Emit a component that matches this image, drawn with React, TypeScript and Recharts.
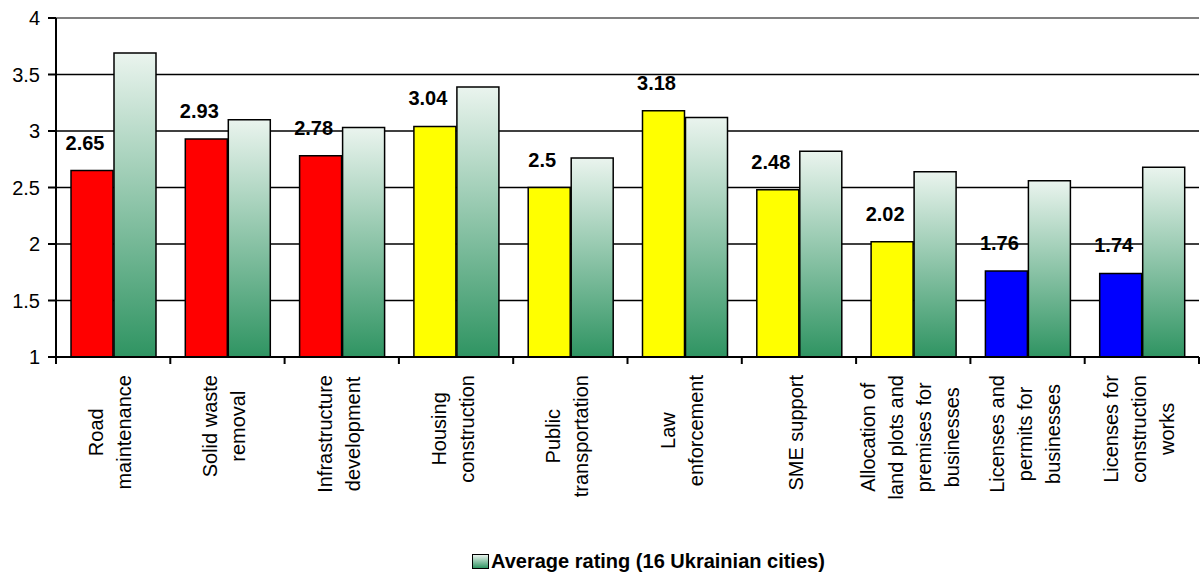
import React from "react";
import { BarChart, Bar, XAxis, YAxis, CartesianGrid, ReferenceLine, LabelList, Cell } from "recharts";

const categories = [
  "Road\nmaintenance",
  "Solid waste\nremoval",
  "Infrastructure\ndevelopment",
  "Housing\nconstruction",
  "Public\ntransportation",
  "Law\nenforcement",
  "SME support",
  "Allocation of\nland plots and\npremises for\nbusinesses",
  "Licenses and\npermits for\nbusinesses",
  "Licenses for\nconstruction\nworks",
];
const cityValues = [2.65, 2.93, 2.78, 3.04, 2.5, 3.18, 2.48, 2.02, 1.76, 1.74];
const cityColors = ["#ff0000", "#ff0000", "#ff0000", "#ffff00", "#ffff00", "#ffff00", "#ffff00", "#ffff00", "#0000ff", "#0000ff"];
const averageValues = [3.69, 3.1, 3.03, 3.39, 2.76, 3.12, 2.82, 2.64, 2.56, 2.68];
const yTicks = [1, 1.5, 2, 2.5, 3, 3.5, 4];
const legendLabel = "Average rating (16 Ukrainian cities)";

const data = categories.map((c, i) => ({
  name: c,
  city: cityValues[i],
  avg: averageValues[i],
}));

const FONT = "'Liberation Sans', Arial, sans-serif";
const W = 1202;
const H = 576;
const PLOT_LEFT = 56;
const PLOT_RIGHT = 1199;
const PLOT_TOP = 18;
const PLOT_BOTTOM = 357;
const BAND = (PLOT_RIGHT - PLOT_LEFT) / categories.length;

let ctx: CanvasRenderingContext2D | null = null;
function measure(text: string, font: string) {
  if (!ctx) ctx = document.createElement("canvas").getContext("2d");
  if (!ctx) return text.length * 10;
  ctx.font = font;
  return ctx.measureText(text).width;
}

function CategoryTick(props: any) {
  const { x, y, payload, index } = props;
  const lines: string[] = String(payload.value).split("\n");
  const maxW = Math.max(...lines.map((l) => measure(l, `20px ${FONT}`)));
  const cy = y + 18 + maxW / 2;
  const n = lines.length;
  return (
    <g>
      {index === 0 && <line x1={x - BAND / 2} x2={x - BAND / 2} y1={y} y2={y + 7} stroke="#000" strokeWidth={2} />}
      <line x1={x + BAND / 2} x2={x + BAND / 2} y1={y} y2={y + 7} stroke="#000" strokeWidth={2} />
      {lines.map((l, i) => {
        const lx = x - 3 + (i - (n - 1) / 2) * 28;
        return (
          <text
            key={i}
            x={lx}
            y={cy}
            transform={`rotate(-90, ${lx}, ${cy})`}
            textAnchor="middle"
            dominantBaseline="central"
            fontSize={20}
            fontFamily={FONT}
            fill="#000"
          >
            {l}
          </text>
        );
      })}
    </g>
  );
}

function ValueLabel(props: any) {
  const { x, y, width, value } = props;
  return (
    <text x={x + width / 2 - 7} y={y - 21} textAnchor="middle" fontSize={20} fontWeight="bold" fontFamily={FONT} fill="#000">
      {value}
    </text>
  );
}

function LegendBox() {
  return (
    <div
      style={{
        position: "absolute",
        left: 472,
        top: 551,
        display: "flex",
        alignItems: "center",
        fontFamily: FONT,
        fontWeight: "bold",
        fontSize: 20,
        lineHeight: "20px",
        color: "#000",
        whiteSpace: "nowrap",
      }}
    >
      <div
        style={{
          width: 15,
          height: 13,
          border: "1.5px solid #000",
          background: "linear-gradient(to bottom, #eaf4ee, #2f9462)",
          marginRight: 2,
        }}
      />
      <span>{legendLabel}</span>
    </div>
  );
}

export default function App() {
  return (
    <div style={{ position: "absolute", left: 0, top: 0, width: W, height: H, background: "#fff" }}>
      <BarChart
        width={W}
        height={H}
        data={data}
        margin={{ top: PLOT_TOP, right: W - PLOT_RIGHT, left: 0, bottom: 0 }}
        barCategoryGap={15}
        barGap={1}
      >
        <defs>
          <linearGradient id="avgGrad" x1="0" y1="0" x2="0" y2="1">
            <stop offset="0%" stopColor="#eaf4ee" />
            <stop offset="100%" stopColor="#2f9462" />
          </linearGradient>
        </defs>
        <CartesianGrid vertical={false} stroke="#000" strokeWidth={1.5} />
        <ReferenceLine y={4} stroke="#808080" strokeWidth={2} />
        <XAxis
          dataKey="name"
          interval={0}
          tickSize={0}
          tickMargin={0}
          tickLine={false}
          height={H - PLOT_BOTTOM}
          axisLine={{ stroke: "#000", strokeWidth: 2 }}
          tick={<CategoryTick />}
        />
        <YAxis
          domain={[1, 4]}
          ticks={yTicks}
          width={PLOT_LEFT}
          tickSize={8}
          tickMargin={8}
          axisLine={{ stroke: "#000", strokeWidth: 2 }}
          tickLine={{ stroke: "#000", strokeWidth: 2 }}
          tick={{ fill: "#000", fontSize: 20, fontFamily: FONT }}
          allowDataOverflow
        />
        <Bar dataKey="city" stroke="#000" strokeWidth={1.5} isAnimationActive={false} legendType="none">
          {data.map((_, i) => (
            <Cell key={i} fill={cityColors[i]} />
          ))}
          <LabelList dataKey="city" content={<ValueLabel />} />
        </Bar>
        <Bar dataKey="avg" name={legendLabel} fill="url(#avgGrad)" stroke="#000" strokeWidth={1.5} isAnimationActive={false} />
      </BarChart>
      <LegendBox />
    </div>
  );
}
